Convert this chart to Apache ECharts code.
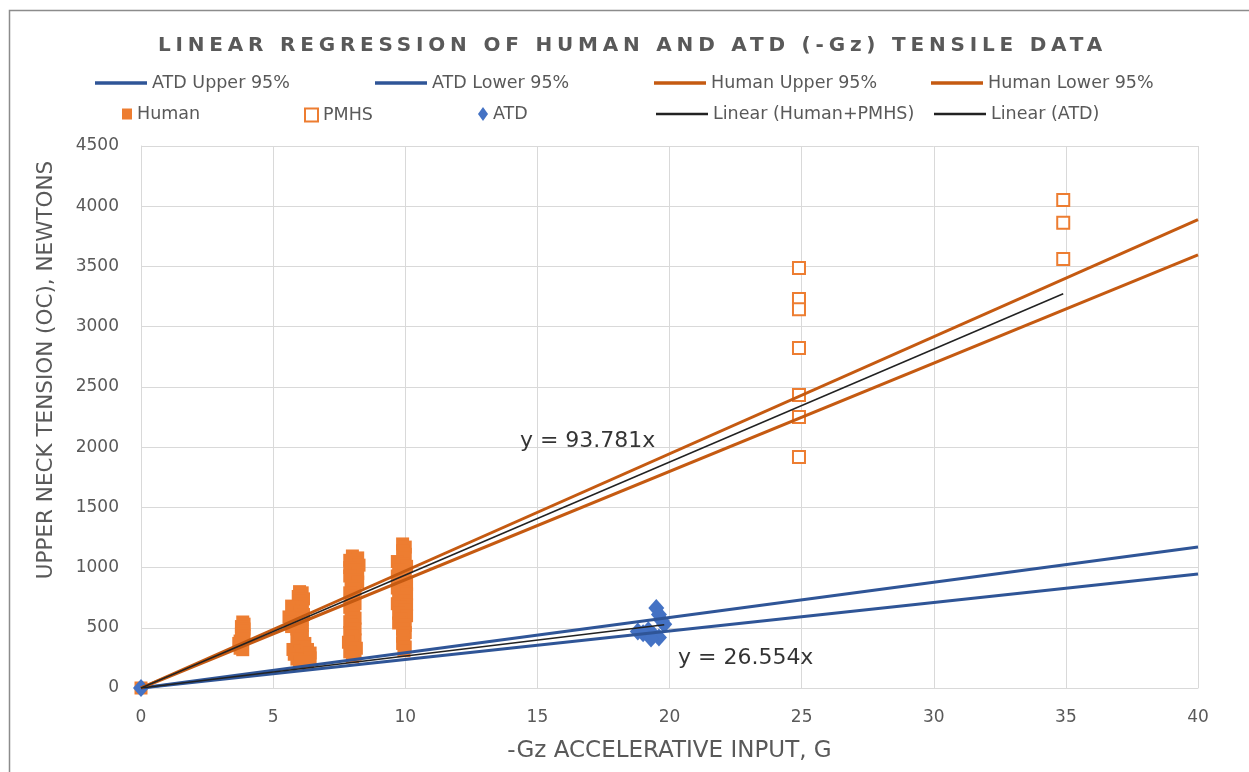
<!DOCTYPE html>
<html>
<head>
<meta charset="utf-8">
<script src="https://cdn.jsdelivr.net/npm/echarts@6/dist/echarts.min.js"></script>
<style>
  html, body { margin: 0; padding: 0; background: #ffffff; }
  #wrap { position: relative; width: 1249px; height: 772px; }
  #chart { position: absolute; left: 0; top: 0; width: 1249px; height: 772px; }
  #title { position: absolute; left: 0; top: 32px; width: 1265px; text-align: center;
           font-family: "DejaVu Sans", sans-serif; font-weight: bold; font-size: 20px;
           letter-spacing: 4.8px; color: #595959; pointer-events: none; white-space: nowrap; }
</style>
</head>
<body>
<div id="wrap">
  <div id="chart"></div>
  <div id="title">LINEAR REGRESSION OF HUMAN AND ATD (-Gz) TENSILE DATA</div>
</div>
<script>
// ---------------- DATA ----------------
const xTicks = [0, 5, 10, 15, 20, 25, 30, 35, 40];
const yTicks = [0, 500, 1000, 1500, 2000, 2500, 3000, 3500, 4000, 4500];

// Confidence bands (end points)
const atdUpperX = [0, 40];
const atdUpperY = [0, 1171];
const atdLowerX = [0, 40];
const atdLowerY = [0, 947];
const humanUpperX = [0, 40];
const humanUpperY = [0, 3888];
const humanLowerX = [0, 40];
const humanLowerY = [0, 3596];

// Human volunteer data
const humanX = [0,
  3.85, 3.9, 3.8, 3.9, 3.85, 3.8, 3.9, 3.85, 3.75, 3.7, 3.8, 3.75, 3.85,
  6.0, 6.1, 5.95, 6.15, 6.0, 6.1, 5.7, 5.9, 6.1, 5.75, 6.0, 6.15, 5.6, 5.85, 6.1, 5.65, 5.9, 6.1, 5.7,
  5.9, 6.1, 5.95, 6.1, 5.9, 6.0, 6.2, 5.95, 6.15, 5.75, 6.0, 6.3, 5.8, 6.1, 6.4, 5.9, 6.2, 6.4, 6.0, 6.3,
  8.0, 8.2, 7.9, 8.1, 8.25, 7.9, 8.1, 8.2, 7.9, 8.05, 8.2, 7.95, 8.1, 7.9, 8.05, 7.95, 8.1, 7.9, 8.05, 7.95,
  8.1, 7.9, 8.0, 8.1, 7.9, 8.0, 8.1, 7.85, 8.0, 8.15, 7.9, 8.1, 8.0,
  9.9, 10.0, 9.9, 10.0, 9.95, 9.7, 9.9, 10.05, 9.75, 9.95, 9.7, 10.0, 9.8, 10.05, 9.7, 9.9, 10.05, 9.75,
  9.95, 9.7, 10.05, 9.8, 10.0, 9.75, 10.05, 9.85, 9.75, 10.0, 9.9, 10.0, 9.9, 9.95, 9.9, 10.0, 9.95];
const humanY = [0,
  548, 530, 510, 490, 470, 450, 430, 410, 390, 370, 350, 330, 318,
  800, 790, 760, 740, 720, 700, 680, 670, 660, 640, 630, 610, 590, 580, 570, 550, 530, 520, 510,
  490, 470, 450, 430, 410, 390, 370, 350, 340, 320, 310, 320, 280, 270, 290, 240, 230, 250, 215, 215,
  1096, 1080, 1060, 1040, 1020, 1000, 980, 950, 930, 900, 880, 850, 820, 790, 760, 730, 700, 670, 640, 610,
  580, 550, 520, 490, 460, 430, 400, 380, 350, 330, 300, 280, 260,
  1196, 1170, 1140, 1110, 1080, 1050, 1030, 1010, 980, 960, 930, 910, 880, 860, 830, 800, 780, 750,
  720, 700, 690, 670, 650, 620, 600, 570, 540, 520, 490, 460, 430, 400, 370, 340, 310];

// Post-mortem human subjects
const pmhsX = [24.9, 24.9, 24.9, 24.9, 24.9, 24.9, 24.9, 34.9, 34.9, 34.9];
const pmhsY = [3487, 3230, 3145, 2823, 2433, 2250, 1918, 4052, 3863, 3562];

// Anthropomorphic test device
const atdX = [0, 19.5, 19.6, 19.7, 19.8, 19.2, 18.8, 19.0, 19.4, 19.6, 19.3];
const atdY = [0, 665, 610, 560, 530, 480, 470, 455, 440, 420, 410];

// Linear trendlines (through origin) spanning the data range
const trendHumanX = [0, 34.9];
const trendHumanY = [0, 3273];
const trendAtdX = [0, 19.8];
const trendAtdY = [0, 526];

// Equation labels (anchored in data space)
const noteText = ['y = 93.781x', 'y = 26.554x'];
const noteX = [14.34, 20.32];
const noteY = [2051, 249];

// ---------------- CHART ----------------
const zip = (xs, ys) => xs.map((x, i) => [x, ys[i]]);
const FONT = '"DejaVu Sans", sans-serif';
const GREY = '#595959';
const BLUE_LINE = '#2F5597';
const ORANGE_LINE = '#C55A11';
const ORANGE = '#ED7D31';
const BLUE = '#4472C4';

const chart = echarts.init(document.getElementById('chart'), null, { renderer: 'canvas' });

function leg(name, left, top, w, h, icon) {
  return {
    data: [name], left: left, top: top, itemWidth: w, itemHeight: h, icon: icon,
    padding: 0, selectedMode: false, itemGap: 0,
    textStyle: { fontFamily: FONT, fontSize: 17.5, color: GREY, padding: [0, 0, 0, 0] }
  };
}

function lineSeries(name, xs, ys, color, width, z) {
  return {
    name: name, type: 'line', data: zip(xs, ys), symbol: 'none', z: z,
    color: color, lineStyle: { color: color, width: width }, silent: true, animation: false
  };
}

const option = {
  backgroundColor: '#ffffff',
  animation: false,
  grid: { left: 141, right: 51, top: 146, bottom: 84, containLabel: false },
  legend: [
    leg('ATD Upper 95%', 95, 74, 52, 3.5, 'rect'),
    leg('ATD Lower 95%', 375, 74, 52, 3.5, 'rect'),
    leg('Human Upper 95%', 654, 74, 52, 3.5, 'rect'),
    leg('Human Lower 95%', 931, 74, 52, 3.5, 'rect'),
    leg('Human', 122, 105, 10, 11, 'rect'),
    leg('PMHS', 304, 106, 13, 13, 'rect'),
    leg('ATD', 478, 105, 10, 14, 'diamond'),
    leg('Linear (Human+PMHS)', 656, 105, 52, 2.5, 'rect'),
    leg('Linear (ATD)', 934, 105, 52, 2.5, 'rect')
  ],
  xAxis: {
    type: 'value', min: 0, max: 40, interval: 5,
    name: '-Gz ACCELERATIVE INPUT, G', nameLocation: 'middle', nameGap: 52,
    nameTextStyle: { fontFamily: FONT, fontSize: 23, color: GREY },
    axisLine: { show: true, lineStyle: { color: '#d9d9d9', width: 1 } },
    axisTick: { show: false },
    axisLabel: { fontFamily: FONT, fontSize: 17, color: GREY, margin: 21,
                 formatter: v => xTicks.includes(v) ? String(v) : '' },
    splitLine: { show: true, lineStyle: { color: '#d9d9d9', width: 1 } }
  },
  yAxis: {
    type: 'value', min: 0, max: 4500, interval: 500,
    name: 'UPPER NECK TENSION (OC), NEWTONS', nameLocation: 'middle', nameGap: 84,
    nameTextStyle: { fontFamily: FONT, fontSize: 21.5, color: GREY, padding: [0, 0, 0, 94] },
    axisLine: { show: true, lineStyle: { color: '#d9d9d9', width: 1 } },
    axisTick: { show: false },
    axisLabel: { fontFamily: FONT, fontSize: 17, color: GREY, margin: 22,
                 formatter: v => yTicks.includes(v) ? String(v) : '' },
    splitLine: { show: true, lineStyle: { color: '#d9d9d9', width: 1 } }
  },
  graphic: [
    { type: 'rect', left: 7, top: 8, z: 100, silent: true,
      shape: { width: 1300, height: 820 },
      style: { fill: 'none', stroke: '#8c8c8c', lineWidth: 1.5 } }
  ],
  series: [
    {
      name: 'Human', type: 'scatter', data: zip(humanX, humanY), symbol: 'rect', symbolSize: 13, z: 2,
      color: ORANGE, itemStyle: { color: ORANGE, opacity: 1 }, silent: true
    },
    {
      name: 'PMHS', type: 'scatter', data: zip(pmhsX, pmhsY), symbol: 'rect', symbolSize: 12, z: 2,
      color: ORANGE, itemStyle: { color: '#ffffff', borderColor: ORANGE, borderWidth: 2, opacity: 1 }, silent: true
    },
    {
      name: 'ATD', type: 'scatter', data: zip(atdX, atdY), symbol: 'diamond', symbolSize: [16, 18], z: 3,
      color: BLUE, itemStyle: { color: BLUE, opacity: 1 }, silent: true
    },
    lineSeries('ATD Upper 95%', atdUpperX, atdUpperY, BLUE_LINE, 3, 4),
    lineSeries('ATD Lower 95%', atdLowerX, atdLowerY, BLUE_LINE, 3, 4),
    lineSeries('Human Upper 95%', humanUpperX, humanUpperY, ORANGE_LINE, 3, 4),
    lineSeries('Human Lower 95%', humanLowerX, humanLowerY, ORANGE_LINE, 3, 4),
    lineSeries('Linear (Human+PMHS)', trendHumanX, trendHumanY, '#222222', 1.5, 5),
    lineSeries('Linear (ATD)', trendAtdX, trendAtdY, '#222222', 1.5, 5),
    {
      name: 'notes', type: 'scatter', symbolSize: 0, z: 6, silent: true,
      data: noteText.map((t, i) => ({ value: [noteX[i], noteY[i]], name: t })),
      label: { show: true, position: 'right', distance: 0, formatter: p => p.name,
               fontFamily: FONT, fontSize: 22, color: '#000000' }
    }
  ]
};
chart.setOption(option);
</script>
</body>
</html>
